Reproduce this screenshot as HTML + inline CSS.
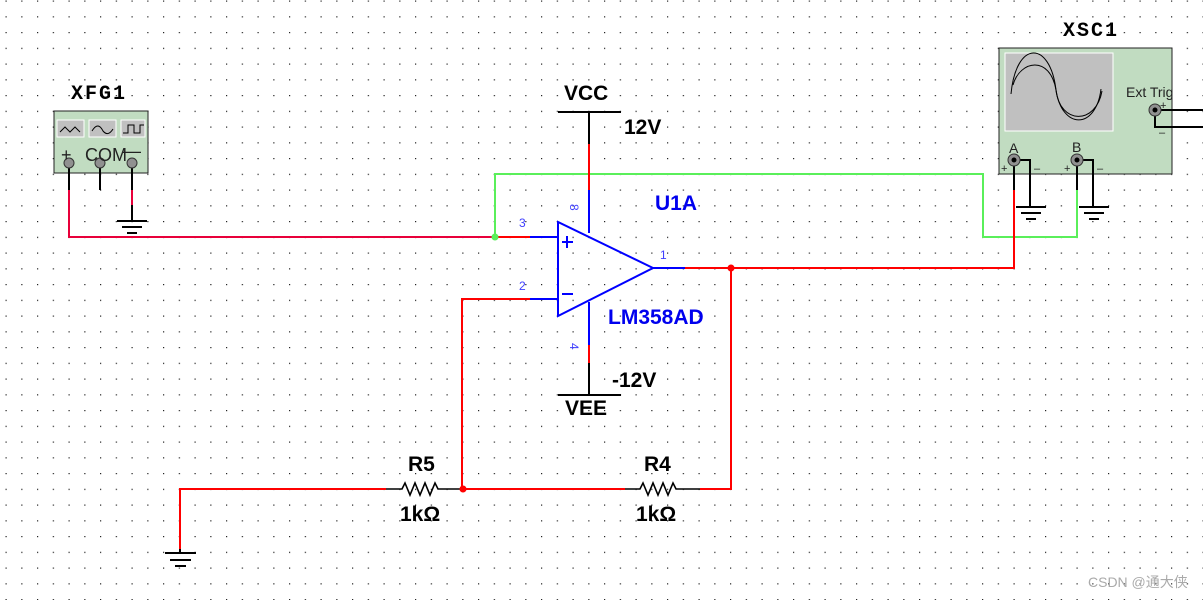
<!DOCTYPE html>
<html><head><meta charset="utf-8"><style>
html,body{margin:0;padding:0;background:#fff;}
svg{display:block;}
.b{font-family:"Liberation Sans",Arial,sans-serif;font-weight:bold;font-size:21px;}
.m{font-family:"Liberation Mono",monospace;font-weight:bold;font-size:20px;letter-spacing:2px;}
.p{font-family:"Liberation Sans",sans-serif;font-size:12px;fill:#4040ff;}
</style></head><body>
<svg width="1203" height="600" viewBox="0 0 1203 600" xmlns="http://www.w3.org/2000/svg">
<defs><pattern id="g" x="5.5" y="0.5" width="15.75" height="15.75" patternUnits="userSpaceOnUse"><rect x="0" y="0" width="1.2" height="1.2" fill="#222"/></pattern></defs>
<rect width="1203" height="600" fill="url(#g)"/>
<g fill="none" stroke-width="2">
<rect x="54" y="111" width="94" height="62" fill="#c1dcc1" stroke="#222" stroke-width="1"/>
<rect x="57" y="120" width="27" height="17" fill="#c0c0c0" stroke="#fff" stroke-width="1"/>
<rect x="89" y="120" width="27" height="17" fill="#c0c0c0" stroke="#fff" stroke-width="1"/>
<rect x="121" y="120" width="24" height="17" fill="#c0c0c0" stroke="#fff" stroke-width="1"/>
<path d="M60 132 l5-5 5 5 5-5 5 5" stroke="#000" stroke-width="1"/>
<path d="M92 131 q6-10 11 0 q5 6 10-2" stroke="#000" stroke-width="1"/>
<path d="M123 133 h5 v-8 h6 v8 h6 v-8 h4" stroke="#000" stroke-width="1"/>
<path d="M69 163 V190" stroke="#000"/><path d="M69 190 V237 H495" stroke="#e8003a"/>
<path d="M100 163 V190" stroke="#000"/>
<path d="M132 163 V190 M132 205 V220" stroke="#000"/><path d="M132 190 V205" stroke="#e8003a"/>
<path d="M117 221 H147 M122 227 H142 M127 233 H137" stroke="#000"/>
<path d="M495 237 V174 H983 V237 H1077 V190" stroke="#5aef5a"/>
<path d="M495 237 H530" stroke="#f00"/>
<path d="M530 237 H558 M530 299 H558" stroke="#00f"/>
<path d="M558 222 V316 L653 268 Z" stroke="#00f"/>
<path d="M562 242 h11 M567 236 v12 M562 294 h11" stroke="#00f"/>
<path d="M558 112 H621 M589 112 V144" stroke="#000"/>
<path d="M589 144 V190" stroke="#f00"/><path d="M589 190 V233" stroke="#00f"/>
<path d="M589 302 V345" stroke="#00f"/><path d="M589 345 V363" stroke="#f00"/>
<path d="M589 363 V395 M558 395 H621" stroke="#000"/>
<path d="M653 268 H685" stroke="#00f"/>
<path d="M685 268 H1014 V190" stroke="#f00"/>
<path d="M731 268 V489 H700" stroke="#f00"/>
<path d="M462 489 H625 M462 489 V299 H530" stroke="#f00"/>
<path d="M386 489 H180 V549" stroke="#f00"/>
<path d="M180 549 V553 M165 553 H196 M170 560 H191 M175 566 H186" stroke="#000"/>
<path d="M386 489 H402 l3-6 5 12 5-12 5 12 5-12 5 12 5-12 3 6 H460" stroke="#000" stroke-width="1.6"/>
<path d="M625 489 H640 l3-6 5 12 5-12 5 12 5-12 5 12 5-12 3 6 H700" stroke="#000" stroke-width="1.6"/>
<rect x="999" y="48" width="173" height="126" fill="#c1dcc1" stroke="#222" stroke-width="1"/>
<rect x="1005" y="53" width="108" height="78" fill="#c0c0c0" stroke="#fff" stroke-width="1"/>
<path d="M1011 94 C1016 40 1050 40 1056 90 C1062 130 1096 130 1101 89" stroke="#000" stroke-width="1"/>
<path d="M1013 85 C1020 60 1050 55 1056 90 C1060 125 1096 125 1102 91" stroke="#000" stroke-width="1"/>
<path d="M1014 160 V190" stroke="#000"/>
<path d="M1014 160 H1030 V207 M1016 207 H1046 M1021 213 H1041 M1026 219 H1036" stroke="#000"/>
<path d="M1077 160 V190" stroke="#000"/>
<path d="M1077 160 H1093 V207 M1079 207 H1109 M1084 213 H1104 M1089 219 H1099" stroke="#000"/>
<path d="M1155 110 H1203 M1155 110 V127 H1203" stroke="#000"/>
</g>
<circle cx="69" cy="163" r="5" fill="#909090" stroke="#333"/>
<circle cx="100" cy="163" r="5" fill="#909090" stroke="#333"/>
<circle cx="132" cy="163" r="5" fill="#909090" stroke="#333"/>
<circle cx="1014" cy="160" r="6" fill="#909090" stroke="#333"/><circle cx="1014" cy="160" r="2.5" fill="#000"/>
<circle cx="1077" cy="160" r="6" fill="#909090" stroke="#333"/><circle cx="1077" cy="160" r="2.5" fill="#000"/>
<circle cx="1155" cy="110" r="6" fill="#909090" stroke="#333"/><circle cx="1155" cy="110" r="2.5" fill="#000"/>
<circle cx="495" cy="237" r="3.5" fill="#5aef5a"/>
<circle cx="731" cy="268" r="3.5" fill="#f00"/>
<circle cx="463" cy="489" r="3.5" fill="#f00"/>
<g font-family="Liberation Sans,sans-serif" font-size="18" fill="#222">
<text x="61" y="161">+</text><text x="85" y="161">COM</text><text x="123" y="157">—</text>
</g>
<g font-family="Liberation Sans,sans-serif" font-size="14" fill="#222">
<text x="1126" y="97">Ext Trig</text><text x="1009" y="153">A</text><text x="1072" y="152">B</text>
<text x="1001" y="172" font-size="11">+</text><text x="1034" y="172" font-size="11">–</text>
<text x="1064" y="172" font-size="11">+</text><text x="1097" y="172" font-size="11">–</text>
<text x="1160" y="109" font-size="11">+</text><text x="1159" y="136" font-size="11">–</text>
</g>
<text class="m" x="71" y="99">XFG1</text>
<text class="m" x="1063" y="36">XSC1</text>
<text class="b" x="564" y="100">VCC</text>
<text class="b" x="624" y="134">12V</text>
<text class="b" x="612" y="387">-12V</text>
<text class="b" x="565" y="415">VEE</text>
<text class="b" x="655" y="210" fill="#0000ee">U1A</text>
<text class="b" x="608" y="324" fill="#0000ee">LM358AD</text>
<text class="b" x="408" y="471">R5</text>
<text class="b" x="400" y="521">1kΩ</text>
<text class="b" x="644" y="471">R4</text>
<text class="b" x="636" y="521">1kΩ</text>
<text class="p" x="519" y="227">3</text>
<text class="p" x="519" y="290">2</text>
<text class="p" x="660" y="259">1</text>
<text class="p" transform="translate(570,204) rotate(90)">8</text>
<text class="p" transform="translate(570,343) rotate(90)">4</text>
<text x="1088" y="587" font-family="Liberation Sans,'Noto Sans CJK SC',sans-serif" font-size="14" fill="#aaa">CSDN @通大侠</text>
</svg>
</body></html>
